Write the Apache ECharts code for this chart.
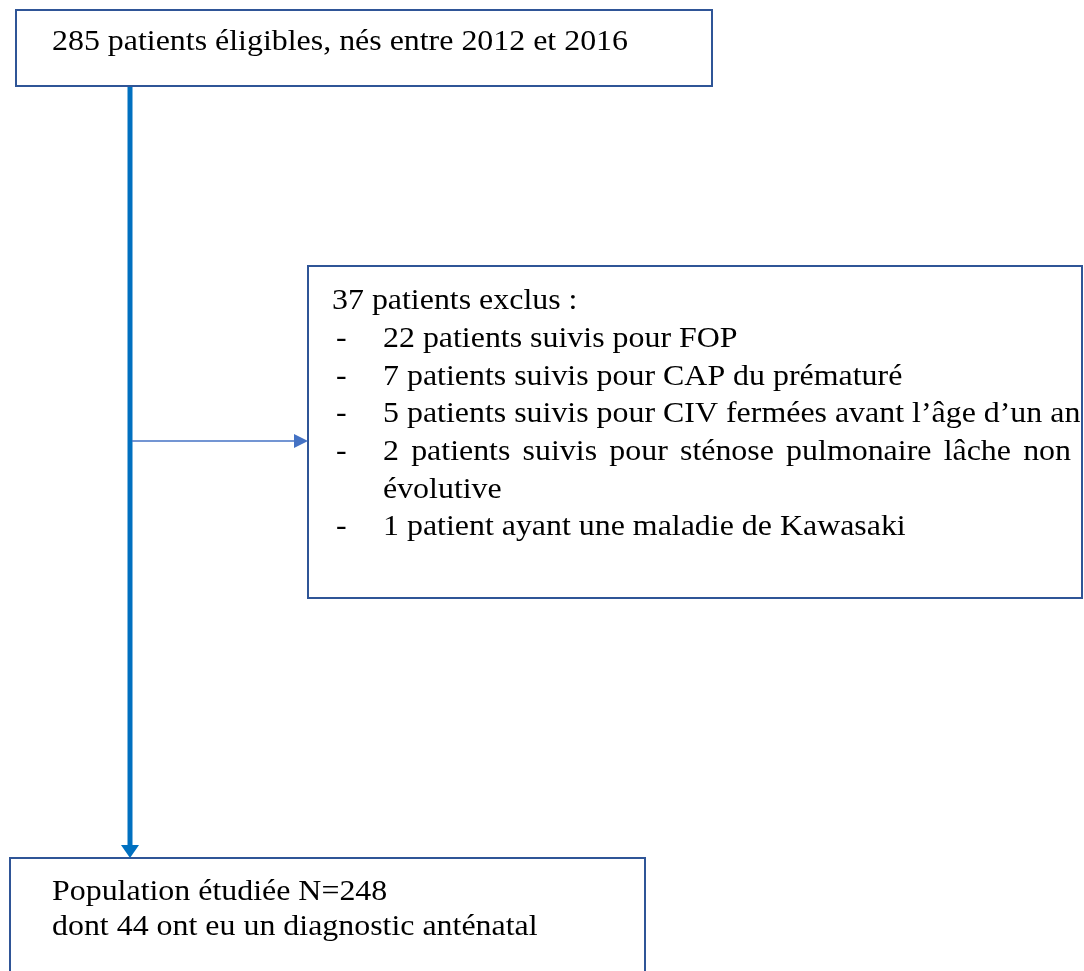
<!DOCTYPE html>
<html>
<head>
<meta charset="utf-8">
<script src="https://cdn.jsdelivr.net/npm/echarts@6/dist/echarts.min.js"></script>
<style>
  html, body { margin: 0; padding: 0; background: #fff; }
  #main { width: 1084px; height: 971px; }
</style>
</head>
<body>
<div id="main"></div>
<script>
// texts of the flow diagram
var topText = '285 patients éligibles, nés entre 2012 et 2016';
var exclTitle = '37 patients exclus :';
var exclItems = [
  '22 patients suivis pour FOP',
  '7 patients suivis pour CAP du prématuré',
  '5 patients suivis pour CIV fermées avant l’âge d’un an',
  '2 patients suivis pour sténose pulmonaire lâche non',
  'évolutive',
  '1 patient ayant une maladie de Kawasaki'
];
var exclDash = [true, true, true, true, false, true];
var bottomLines = ['Population étudiée N=248', 'dont 44 ont eu un diagnostic anténatal'];

var FONT_SIZE = 30;
var FAMILY = 'Liberation Serif';
var BORDER = '#2F5597';

var ctx = document.createElement('canvas').getContext('2d');
ctx.font = FONT_SIZE + 'px "' + FAMILY + '"';
function measure(t) { return ctx.measureText(t).width; }
var sx = 576 / measure(topText);

function txt(t, x, y) {
  return {
    type: 'text', x: x, y: y, scaleX: sx,
    style: { text: t, fontFamily: FAMILY, fontSize: FONT_SIZE, fill: '#000', textVerticalAlign: 'middle' }
  };
}

var g = [];
// boxes
g.push({ type: 'rect', shape: { x: 16, y: 10, width: 696, height: 76 },
  style: { fill: '#fff', stroke: BORDER, lineWidth: 2 } });
g.push({ type: 'rect', shape: { x: 308, y: 266, width: 774, height: 332 },
  style: { fill: '#fff', stroke: BORDER, lineWidth: 2 } });
g.push({ type: 'rect', shape: { x: 10, y: 858, width: 635, height: 200 },
  style: { fill: '#fff', stroke: BORDER, lineWidth: 2 } });

// main vertical arrow
g.push({ type: 'line', shape: { x1: 130, y1: 87, x2: 130, y2: 848 },
  style: { stroke: '#0070C0', lineWidth: 5 } });
g.push({ type: 'polygon', shape: { points: [[121, 845], [139, 845], [130, 858]] },
  style: { fill: '#0070C0' } });

// side arrow to exclusions
g.push({ type: 'line', shape: { x1: 132, y1: 441, x2: 296, y2: 441 },
  style: { stroke: '#4472C4', lineWidth: 1.5 } });
g.push({ type: 'polygon', shape: { points: [[294, 434], [308, 441], [294, 448]] },
  style: { fill: '#4472C4' } });

// top box text
g.push(txt(topText, 52, 42));

// exclusion list
g.push(txt(exclTitle, 332, 301));
var lineH = 37.7;
exclItems.forEach(function (item, i) {
  var y = 339 + i * lineH;
  if (exclDash[i]) g.push(txt('-', 336, y));
  if (i === 3) {
    // justified line
    var words = item.split(' ');
    var widths = words.map(function (w) { return measure(w) * sx; });
    var total = widths.reduce(function (a, b) { return a + b; }, 0);
    var gap = (1071 - 383 - total) / (words.length - 1);
    var x = 383;
    words.forEach(function (w, k) {
      g.push(txt(w, x, y));
      x += widths[k] + gap;
    });
  } else {
    g.push(txt(item, 383, y));
  }
});

// bottom box text
bottomLines.forEach(function (l, i) {
  g.push(txt(l, 52, 892 + i * 35));
});

var chart = echarts.init(document.getElementById('main'));
chart.setOption({
  backgroundColor: '#fff',
  graphic: g
});
</script>
</body>
</html>
